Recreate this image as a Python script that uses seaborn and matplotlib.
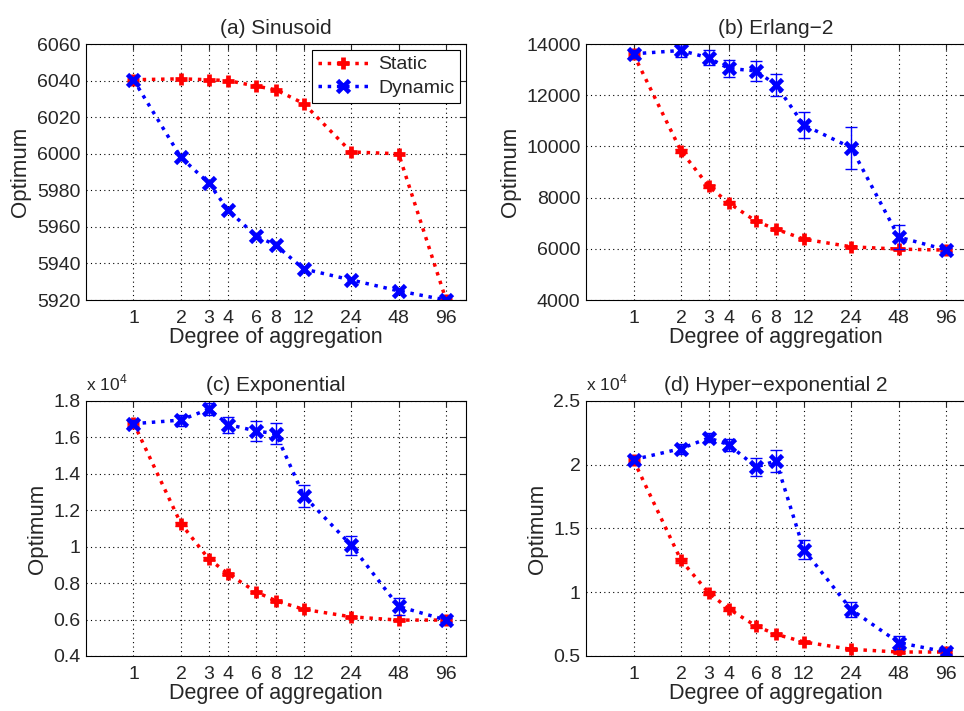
"""Optimum vs. degree of aggregation for four demand profiles."""

import matplotlib

matplotlib.use("Agg")
import matplotlib.pyplot as plt
import seaborn as sns
from matplotlib.ticker import FixedLocator, FuncFormatter, NullLocator

DEGREES = [1, 2, 3, 4, 6, 8, 12, 24, 48, 96]

# (a) Sinusoid
SIN_STATIC = [6040.5, 6041, 6040.5, 6040, 6037, 6035, 6027.5, 6001, 6000, 5920]
SIN_DYNAMIC = [6040.5, 5998, 5984, 5969, 5955, 5950, 5937, 5931, 5925, 5920]

# (b) Erlang-2
ERL_STATIC = [13600, 9820, 8440, 7800, 7070, 6770, 6380, 6080, 5990, 5950]
ERL_STATIC_ERR = [120, 80, 60, 50, 40, 40, 30, 30, 30, 30]
ERL_DYNAMIC = [13620, 13750, 13460, 13050, 12950, 12400, 10840, 9950, 6460, 5960]
ERL_DYNAMIC_ERR = [150, 270, 290, 330, 380, 430, 510, 820, 460, 80]

# (c) Exponential
EXP_STATIC = [16800, 11260, 9330, 8500, 7510, 7030, 6560, 6150, 5970, 5970]
EXP_STATIC_ERR = [150, 100, 80, 70, 60, 50, 40, 40, 40, 40]
EXP_DYNAMIC = [16750, 16950, 17550, 16700, 16350, 16200, 12800, 10080, 6720, 5970]
EXP_DYNAMIC_ERR = [200, 300, 320, 440, 560, 590, 600, 520, 450, 100]

# (d) Hyper-exponential 2
HYP_STATIC = [20350, 12500, 9940, 8710, 7330, 6700, 6100, 5520, 5310, 5310]
HYP_STATIC_ERR = [250, 200, 150, 150, 120, 100, 80, 60, 60, 60]
HYP_DYNAMIC = [20400, 21260, 22100, 21570, 19820, 20290, 13340, 8630, 6050, 5310]
HYP_DYNAMIC_ERR = [300, 400, 350, 470, 700, 900, 720, 600, 500, 150]

PANELS = [
    ("(a) Sinusoid", SIN_STATIC, None, SIN_DYNAMIC, None,
     (5920, 6060), list(range(5920, 6061, 20)), False),
    ("(b) Erlang\u22122", ERL_STATIC, ERL_STATIC_ERR, ERL_DYNAMIC, ERL_DYNAMIC_ERR,
     (4000, 14000), list(range(4000, 14001, 2000)), False),
    ("(c) Exponential", EXP_STATIC, EXP_STATIC_ERR, EXP_DYNAMIC, EXP_DYNAMIC_ERR,
     (4000, 18000), list(range(4000, 18001, 2000)), True),
    ("(d) Hyper\u2212exponential 2", HYP_STATIC, HYP_STATIC_ERR, HYP_DYNAMIC, HYP_DYNAMIC_ERR,
     (5000, 25000), list(range(5000, 25001, 5000)), True),
]

POSITIONS = [
    [0.0892, 0.578, 0.394, 0.360],
    [0.608, 0.578, 0.394, 0.360],
    [0.0892, 0.0774, 0.394, 0.3587],
    [0.608, 0.0774, 0.394, 0.3587],
]

RED = "#ff0000"
BLUE = "#0000ff"


def draw_series(ax, y, err, color, marker, label):
    sns.lineplot(
        x=DEGREES, y=y, ax=ax, color=color, linestyle=":", linewidth=2.5,
        marker=marker, markersize=8.5, markeredgewidth=3.4,
        markeredgecolor=color, label=label, legend=False,
    )
    if err is not None:
        ax.errorbar(DEGREES, y, yerr=err, fmt="none", ecolor=color,
                    elinewidth=1.0, capsize=4, capthick=1.0)


def style_axes(ax, title, ylim, yticks, scaled):
    ax.set_xscale("log", base=2)
    ax.set_xlim(0.5, 128)
    ax.xaxis.set_major_locator(FixedLocator(DEGREES))
    ax.xaxis.set_minor_locator(NullLocator())
    ax.xaxis.set_major_formatter(FuncFormatter(lambda v, _: f"{v:g}"))
    ax.set_ylim(*ylim)
    ax.set_yticks(yticks)
    if scaled:
        ax.yaxis.set_major_formatter(FuncFormatter(lambda v, _: f"{v / 1e4:g}"))
        ax.text(0.0, 1.03, r"x 10$^4$", transform=ax.transAxes,
                fontsize=12.5, ha="left", va="bottom")
    else:
        ax.yaxis.set_major_formatter(FuncFormatter(lambda v, _: f"{v:g}"))
    ax.grid(True, linestyle=(0, (1, 3)), color="black", linewidth=0.8)
    ax.tick_params(direction="in", top=True, right=True, length=4,
                   labelsize=14, width=0.8)
    ax.tick_params(axis="x", pad=7)
    ax.tick_params(axis="y", pad=4)
    for spine in ax.spines.values():
        spine.set_visible(True)
        spine.set_color("black")
        spine.set_linewidth(0.8)
    ax.set_title(title, fontsize=15, pad=7)
    ax.set_xlabel("Degree of aggregation", fontsize=15.5, labelpad=0)
    ax.set_ylabel("Optimum", fontsize=16, labelpad=4)


def main() -> None:
    sns.set_style("white")
    plt.rcParams["font.family"] = ["Liberation Sans", "DejaVu Sans"]
    plt.rcParams["mathtext.fontset"] = "custom"
    plt.rcParams["mathtext.rm"] = "Liberation Sans"

    fig = plt.figure(figsize=(9.64, 7.11), dpi=100)

    for pos, (title, st, st_err, dy, dy_err, ylim, yticks, scaled) in zip(POSITIONS, PANELS):
        ax = fig.add_axes(pos)
        draw_series(ax, st, st_err, RED, "+", "Static")
        draw_series(ax, dy, dy_err, BLUE, "x", "Dynamic")
        style_axes(ax, title, ylim, yticks, scaled)
        if title.startswith("(a)"):
            leg = ax.legend(loc="upper right", fontsize=14, frameon=True,
                            fancybox=False, borderaxespad=0.3, handlelength=2.6,
                            borderpad=0.3, labelspacing=0.3, handletextpad=0.5)
            leg.get_frame().set_edgecolor("black")
            leg.get_frame().set_linewidth(0.8)
            leg.get_frame().set_alpha(1.0)

    fig.savefig("out.png", dpi=100)


if __name__ == "__main__":
    main()
